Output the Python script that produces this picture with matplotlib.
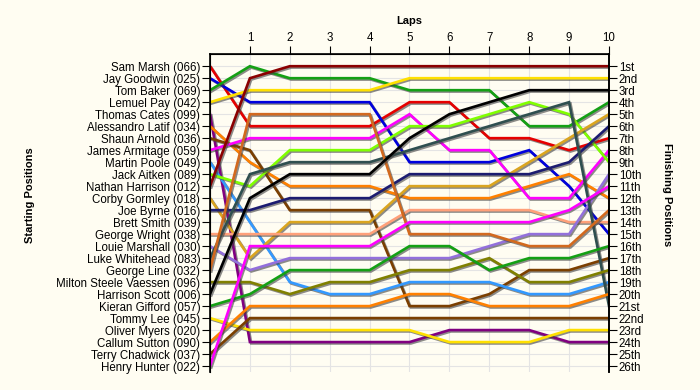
import matplotlib
matplotlib.use("Agg")
import matplotlib.pyplot as plt
import matplotlib.patheffects as pe

plt.rcParams['font.family'] = ['Liberation Sans', 'DejaVu Sans']

# starting grid order (top to bottom)
drivers = ['Sam Marsh (066)', 'Jay Goodwin (025)', 'Tom Baker (069)', 'Lemuel Pay (042)',
           'Thomas Cates (099)', 'Alessandro Latif (034)', 'Shaun Arnold (036)',
           'James Armitage (059)', 'Martin Poole (049)', 'Jack Aitken (089)',
           'Nathan Harrison (012)', 'Corby Gormley (018)', 'Joe Byrne (016)',
           'Brett Smith (039)', 'George Wright (038)', 'Louie Marshall (030)',
           'Luke Whitehead (083)', 'George Line (032)', 'Milton Steele Vaessen (096)',
           'Harrison Scott (006)', 'Kieran Gifford (057)', 'Tommy Lee (045)',
           'Oliver Myers (020)', 'Callum Sutton (090)', 'Terry Chadwick (037)',
           'Henry Hunter (022)']

laps = list(range(11))

# position at the end of each lap (lap 0 = grid), None = no lap data
positions = [
    [1, 6, 6, 6, 6, 4, 4, 7, 7, 8, 7],
    [2, 4, 4, 4, 4, 9, 9, 9, 8, 11, 15],
    [3, 1, 2, 2, 2, 3, 3, 3, 6, 6, 4],
    [4, 3, 3, 3, 3, 2, 2, 2, 2, 2, 2],
    [5, 24, 24, 24, 24, 24, 23, 23, 23, 24, 24],
    [6, 9, 11, 11, 11, 12, 12, 12, 11, 10, 12],
    [7, 8, 13, 13, 13, 21, 21, 20, 18, 18, 17],
    [8, 7, 7, 7, 7, 5, 8, 8, 12, 12, 8],
    [9, 14, 19, 20, 20, 19, 19, 19, 20, 20, 19],
    [10, 11, 8, 8, 8, 6, 6, 5, 4, 5, 9],
    [11, 2, 1, 1, 1, 1, 1, 1, 1, 1, 1],
    [12, 17, 14, 14, 14, 11, 11, 11, 9, 7, 5],
    [13, 13, 12, 12, 12, 10, 10, 10, 10, 9, 6],
    None,
    [15, 15, 15, 15, 15, 13, 13, 13, 13, 14, 14],
    [16, 18, 17, 17, 17, 17, 17, 16, 15, 15, 10],
    [17, 10, 9, 9, 9, 8, 7, 6, 5, 4, 21],
    [18, 5, 5, 5, 5, 15, 15, 15, 16, 16, 13],
    [19, 19, 20, 19, 19, 18, 18, 17, 19, 19, 18],
    [20, 12, 10, 10, 10, 7, 5, 4, 3, 3, 3],
    [21, 20, 18, 18, 18, 16, 16, 18, 17, 17, 16],
    [22, 23, 23, 23, 23, 23, 24, 24, 24, 23, 23],
    None,
    [24, 21, 21, 21, 21, 20, 20, 21, 21, 21, 20],
    [25, 22, 22, 22, 22, 22, 22, 22, 22, 22, 22],
    [26, 16, 16, 16, 16, 14, 14, 14, 14, 13, 11],
]

colors = ['#e60000', '#0000dd', '#14a014', '#ffe000', '#800080', '#ff8000',
          '#7b3f00', '#ff00ff', '#3399ff', '#80ff00', '#8b0000', '#daa520',
          '#1c1c70', None, '#ffa07a', '#9370db', '#2f4f4f', '#d2691e',
          '#808000', '#000000', '#14a014', '#ffe000', None, '#ff8000',
          '#7b3f00', '#ff00ff']

finish_labels = ['1st', '2nd', '3rd'] + ['%dth' % i for i in range(4, 21)] + \
                ['21st', '22nd', '23rd', '24th', '25th', '26th']

bg = '#fffdf2'
fig = plt.figure(figsize=(7, 3.9), dpi=100, facecolor=bg)
ax = fig.add_axes([0.30, 0.046, 0.57, 0.815], facecolor=bg)

for pos, col in zip(positions, colors):
    if pos is None:
        continue
    ax.plot(laps, pos, color=col, lw=1.9, solid_joinstyle='miter',
            path_effects=[pe.SimpleLineShadow(offset=(1, -1), shadow_color='#404040', alpha=0.6),
                          pe.Normal()])

ax.set_xlim(0, 10)
ax.set_ylim(26.5, 0)

ax.set_xticks(range(1, 11))
ax.xaxis.tick_top()
ax.tick_params(axis='x', length=6, labelsize=8.3, pad=1)
ax.set_yticks(range(1, 27))
ax.set_yticklabels(drivers)
ax.tick_params(axis='y', length=6, labelsize=8.3, pad=1)

ax.grid(True, color='#e4e4e4', lw=0.8)
ax.set_axisbelow(True)
ax.spines['bottom'].set_visible(False)
for s in ['left', 'top', 'right']:
    ax.spines[s].set_linewidth(1.2)

ax2 = ax.twinx()
ax2.set_ylim(26.5, 0)
ax2.set_yticks(range(1, 27))
ax2.set_yticklabels(finish_labels)
ax2.tick_params(axis='y', length=6, labelsize=8.3, pad=1)
ax2.spines['bottom'].set_visible(False)
ax2.spines['right'].set_linewidth(1.2)

fig.text(0.585, 0.945, 'Laps', ha='center', va='center', fontsize=8, fontweight='bold')
fig.text(0.043, 0.50, 'Starting Positions', ha='center', va='center', rotation=90,
         fontsize=8, fontweight='bold')
fig.text(0.953, 0.50, 'Finishing Positions', ha='center', va='center', rotation=270,
         fontsize=8, fontweight='bold')

fig.savefig('out.png', dpi=100, facecolor=bg)
